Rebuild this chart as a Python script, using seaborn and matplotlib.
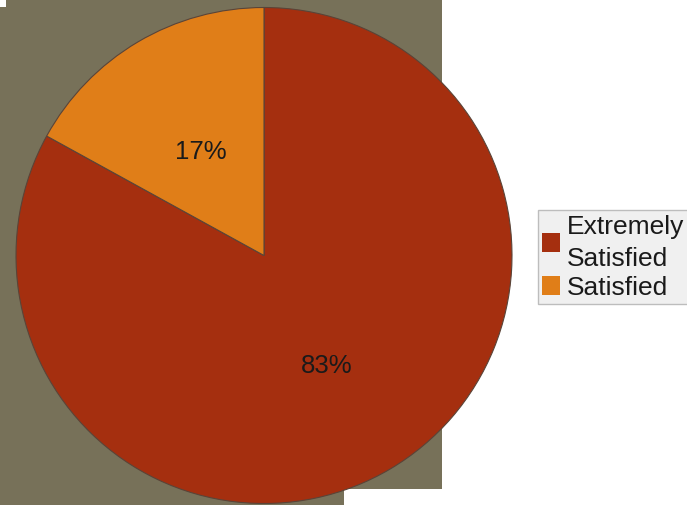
import matplotlib
matplotlib.use("Agg")
import matplotlib.pyplot as plt
import seaborn as sns
from matplotlib.patches import Rectangle, Patch

categories = ["Extremely\nSatisfied", "Satisfied"]
values = [83, 17]
colors = ["#A52F0F", "#E07E18"]

sns.set_theme(style="white")
plt.rcParams['font.family'] = ['Liberation Sans', 'DejaVu Sans']

W, H = 687, 506
fig = plt.figure(figsize=(W / 100, H / 100), dpi=100)
fig.patch.set_facecolor("white")

olive = "#777159"
fig.patches.append(Rectangle((0, 16 / H), 442 / W, 490 / H, transform=fig.transFigure,
                             facecolor=olive, edgecolor="none", zorder=-5))
fig.patches.append(Rectangle((0, 0), 344 / W, 16 / H, transform=fig.transFigure,
                             facecolor=olive, edgecolor="none", zorder=-5))
fig.patches.append(Rectangle((0, (H - 8) / H), 6 / W, 8 / H, transform=fig.transFigure,
                             facecolor="white", edgecolor="none", zorder=-4))

cx, cy, R = 264, 256.5, 248
ax = fig.add_axes([(cx - R) / W, (H - cy - R) / H, 2 * R / W, 2 * R / H])
ax.set_zorder(2)
ax.set_facecolor("none")
ax.patch.set_alpha(0)
pal = sns.color_palette(colors)
wedges, texts, autotexts = ax.pie(values, colors=pal, startangle=90, counterclock=False,
                                  autopct=lambda p: f"{p:.0f}%", pctdistance=0.5,
                                  wedgeprops=dict(edgecolor="#5a4438", linewidth=0.8),
                                  textprops=dict(fontsize=18.5, color="#1a1a1a"))
for t in autotexts:
    t.set_verticalalignment("center_baseline")
ax.set_xlim(-1, 1)
ax.set_ylim(-1, 1)
ax.set_aspect("equal")
ax.axis("off")

handles = [Patch(facecolor=c, edgecolor="none") for c in colors]
leg = fig.legend(handles, categories, loc="upper left",
                 bbox_to_anchor=(538 / W, 1 - 211 / H), borderaxespad=0,
                 frameon=True, fancybox=False, fontsize=19,
                 handlelength=0.68, handleheight=0.72, handletextpad=0.25,
                 borderpad=0.17, labelspacing=0.2)
leg.set_zorder(3)
for t in leg.get_texts():
    t.set_linespacing(1.4)
    t.set_color("#1a1a1a")
leg.get_frame().set_facecolor("#F0F0F0")
leg.get_frame().set_edgecolor("#BDBDBD")
leg.get_frame().set_linewidth(1)
leg.get_frame().set_alpha(1)

fig.savefig("out.png", dpi=100)
